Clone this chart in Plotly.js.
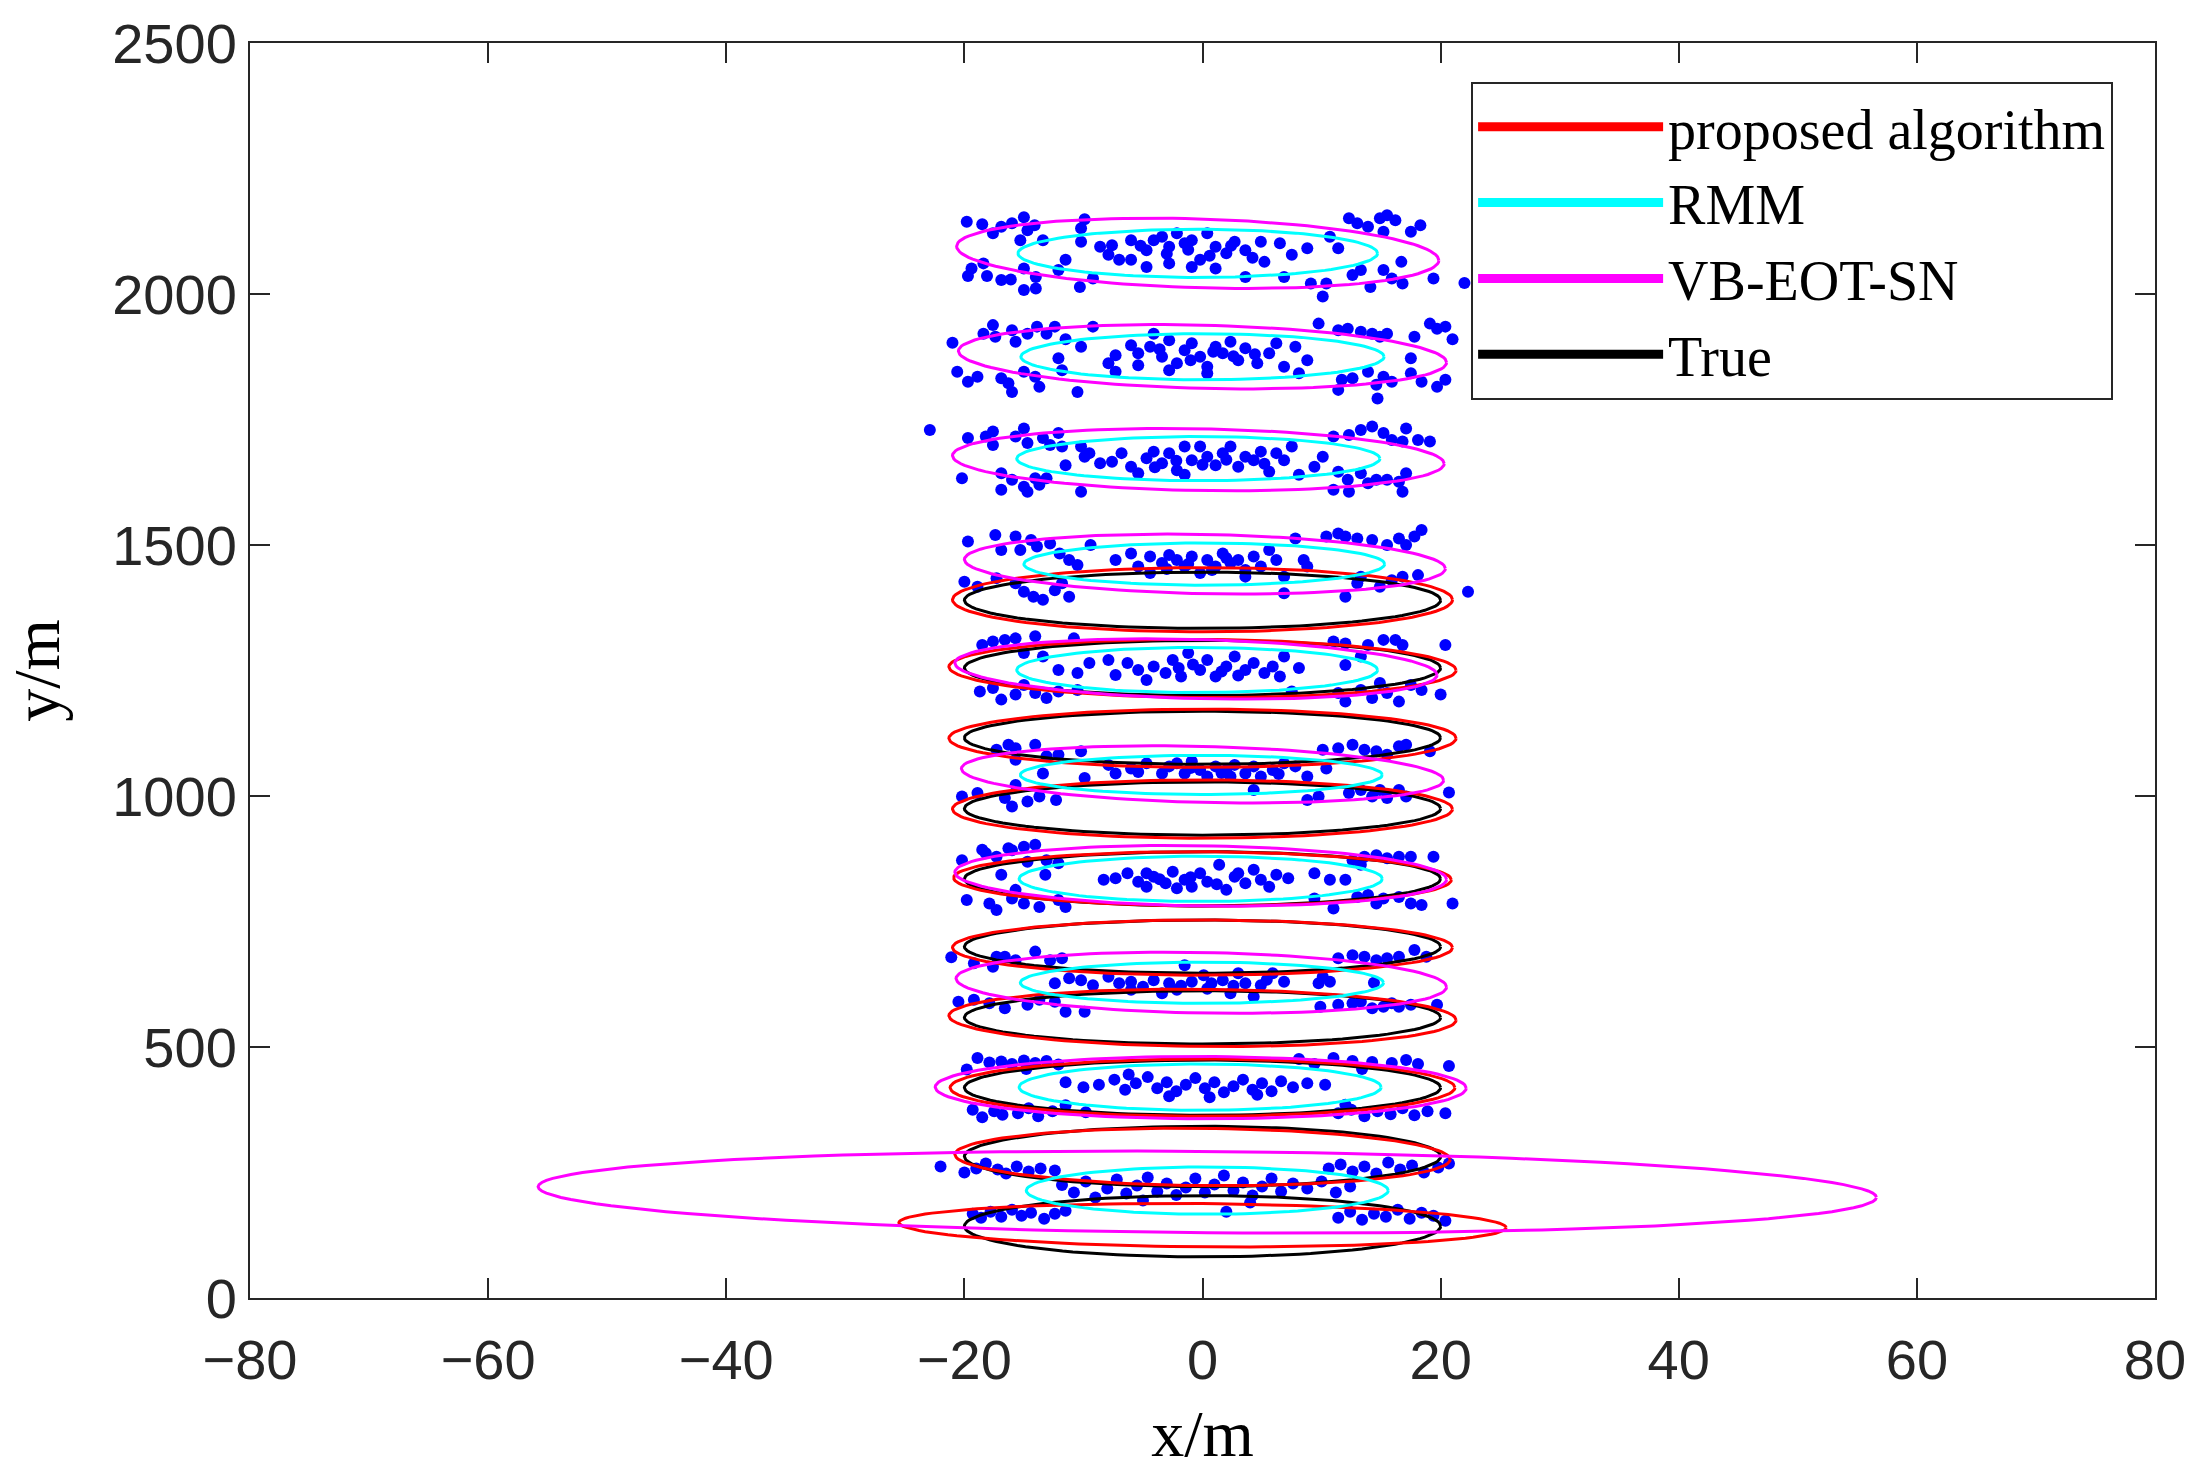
<!DOCTYPE html>
<html>
<head>
<meta charset="utf-8">
<script src="https://cdn.plot.ly/plotly-3.0.1.min.js"></script>
<style>
  html, body { margin: 0; padding: 0; background: #fff; }
</style>
</head>
<body>
<div id="chart" style="width:2202px;height:1470px;"></div>
<script>
// measurement points, one list per frame ([x, y] in metres)
const pointsFrame1 = [
  [-19.8,2144],[-18.5,2139],[-17.6,2121],[-16.9,2134],[-16.0,2141],[-15.0,2153],[-14.7,2127],[-14.1,2137],[-15.3,2107],[-13.4,2107],[-9.9,2149],[-10.2,2131],[-10.2,2104],
  [-19.4,2051],[-19.7,2036],[-18.4,2061],[-18.1,2036],[-16.9,2028],[-16.1,2029],[-15.0,2051],[-14.0,2034],[-15.0,2008],[-14.0,2011],[-12.1,2048],[-10.3,2014],[-9.2,2031],
  [-8.6,2094],[-7.6,2097],[-6.0,2107],[-7.9,2078],[-7.0,2068],[-6.0,2068],[-4.7,2087],[-4.1,2107],[-3.4,2114],[-2.8,2094],[-2.15,2121],[-1.5,2101],[-0.9,2107],[-0.2,2068],[0.4,2121],[1.1,2094],[2.0,2081],[2.7,2104],[3.6,2087],[4.9,2104],[-4.7,2054],[-2.8,2061],[-0.9,2054],[1.1,2051],[3.6,2034],[5.2,2064],[6.5,2101],[7.5,2078],[8.8,2091],[6.85,2034],[-11.5,2068],
  [-3.0,2080],[-1.2,2088],[0.6,2076],[2.4,2096],[-5.2,2096],[4.2,2072],
  [10.7,2114],[11.4,2091],[12.3,2151],[13.0,2141],[13.9,2134],[14.9,2151],[15.5,2157],[16.2,2147],[15.2,2124],[17.5,2124],[18.3,2137],
  [9.1,2021],[10.1,1995],[10.4,2021],[12.6,2038],[13.3,2048],[14.1,2014],[15.2,2048],[15.9,2031],[16.8,2021],[16.7,2064],[19.4,2031],[22.0,2022]
];
const pointsFrame2 = [
  [-21.0,1903],[-18.4,1921],[-17.6,1938],[-17.4,1915],[-16.0,1928],[-15.7,1905],[-14.7,1921],[-13.9,1935],[-13.1,1921],[-12.4,1935],[-11.5,1910],[-9.2,1935],[-10.2,1895],
  [-20.6,1845],[-19.7,1825],[-18.9,1835],[-16.9,1832],[-16.3,1822],[-16.0,1805],[-15.0,1845],[-14.05,1835],[-13.7,1815],[-12.1,1872],[-11.8,1848],[-10.5,1805],
  [-7.9,1862],[-7.3,1878],[-6.0,1898],[-5.4,1882],[-4.4,1895],[-4.1,1921],[-3.4,1875],[-2.8,1908],[-2.15,1862],[-1.5,1888],[-0.9,1902],[-0.2,1875],[0.4,1855],[1.1,1895],[1.7,1882],[2.35,1905],[3.0,1868],[3.6,1892],[4.6,1862],[5.6,1882],[6.2,1902],[6.85,1855],[7.8,1895],[8.8,1868],[8.1,1842],[-7.3,1845],[-2.8,1848],[0.4,1842],[-5.4,1858],
  [-1.0,1868],[0.9,1885],[2.6,1876],[-3.6,1890],[4.4,1880],
  [9.75,1941],[11.4,1928],[12.2,1931],[13.3,1925],[14.25,1921],[14.9,1915],[15.5,1921],[17.8,1915],[19.1,1941],[19.7,1931],[20.4,1935],[21.0,1910],
  [11.4,1809],[11.7,1829],[12.6,1832],[13.9,1845],[14.6,1819],[15.2,1835],[15.9,1825],[17.5,1872],[17.5,1842],[18.4,1825],[19.7,1815],[20.4,1829],[14.7,1792]
];
const pointsFrame3 = [
  [-22.9,1729],[-19.7,1713],[-18.2,1716],[-17.6,1726],[-17.6,1699],[-15.7,1716],[-15.0,1732],[-14.7,1703],[-13.4,1713],[-12.8,1699],[-12.1,1723],[-11.8,1696],[-10.2,1696],[-9.5,1683],
  [-20.2,1633],[-16.9,1643],[-16.9,1610],[-16.0,1630],[-15.0,1616],[-14.7,1606],[-14.05,1633],[-13.7,1620],[-13.1,1633],[-10.2,1606],
  [-11.5,1659],[-9.9,1676],[-8.6,1663],[-7.6,1666],[-6.8,1683],[-6.0,1656],[-5.4,1643],[-4.7,1673],[-4.1,1686],[-3.4,1663],[-2.8,1683],[-2.15,1649],[-1.5,1640],[-0.9,1669],[-0.2,1696],[0.4,1676],[1.1,1659],[1.7,1683],[2.35,1696],[3.0,1656],[3.6,1676],[4.3,1669],[4.9,1686],[5.6,1646],[6.2,1683],[6.85,1669],[7.5,1696],[8.1,1640],[9.4,1656],[10.1,1676],[-1.5,1696],
  [-2.2,1668],[0.0,1660],[2.0,1670],[-4.0,1655],[5.2,1662],
  [11.0,1716],[12.3,1719],[13.3,1729],[14.25,1736],[15.2,1723],[15.9,1709],[16.8,1706],[17.1,1732],[18.1,1709],[19.1,1706],
  [11.0,1610],[12.2,1630],[12.3,1606],[13.3,1643],[13.9,1623],[14.6,1630],[15.5,1630],[16.5,1626],[16.8,1606],[17.1,1643],[11.4,1646]
];
const pointsFrame4 = [
  [-19.7,1507],[-17.4,1520],[-16.9,1490],[-15.7,1517],[-15.3,1490],[-14.4,1510],[-13.9,1497],[-12.8,1503],[-12.0,1483],[-11.2,1470],[-10.5,1460],[-9.4,1500],
  [-20.0,1427],[-18.9,1417],[-17.3,1434],[-15.7,1424],[-15.0,1407],[-14.2,1397],[-13.4,1391],[-12.4,1410],[-11.2,1397],[-11.8,1424],
  [-7.3,1470],[-6.0,1483],[-5.4,1457],[-4.4,1477],[-3.4,1464],[-2.8,1480],[-2.15,1470],[-1.5,1457],[-0.9,1477],[-0.2,1444],[0.4,1470],[1.1,1457],[1.7,1483],[2.35,1464],[3.0,1470],[3.6,1450],[4.3,1477],[4.9,1457],[5.6,1490],[6.2,1470],[6.85,1437],[8.5,1470],[8.8,1457],[-4.4,1444],[3.6,1437],
  [-1.2,1462],[0.8,1450],[2.0,1474],[-3.0,1452],
  [7.8,1513],[10.4,1517],[11.4,1523],[12.0,1517],[13.0,1513],[14.25,1510],[15.5,1500],[16.5,1513],[17.1,1500],[17.8,1517],[18.4,1530],
  [12.0,1397],[13.0,1424],[13.3,1437],[14.9,1417],[15.9,1430],[16.8,1437],[18.1,1440],[22.3,1407],[6.85,1404]
];
const pointsFrame5 = [
  [-18.5,1301],[-17.6,1308],[-16.6,1311],[-15.7,1314],[-14.05,1318],[-15.0,1285],[-13.4,1278],[-10.8,1314],
  [-18.7,1208],[-17.6,1215],[-16.9,1192],[-15.7,1202],[-15.0,1221],[-14.05,1205],[-13.1,1195],[-12.1,1208],[-10.5,1211],
  [-12.1,1251],[-10.5,1245],[-9.5,1265],[-7.9,1271],[-7.3,1241],[-6.3,1265],[-5.4,1251],[-4.7,1231],[-4.1,1258],[-3.1,1245],[-2.5,1271],[-1.8,1238],[-1.2,1285],[-0.2,1251],[0.4,1271],[1.1,1238],[2.0,1258],[2.7,1278],[3.6,1251],[4.3,1265],[5.2,1245],[5.9,1258],[6.5,1238],[6.85,1278],[8.1,1255],[12.0,1261],[7.5,1208],
  [-0.8,1262],[1.6,1248],[-2.0,1255],[3.0,1240],
  [11.0,1308],[12.0,1304],[13.3,1278],[13.9,1301],[15.2,1311],[16.2,1311],[16.8,1301],[20.4,1301],
  [11.4,1205],[12.0,1188],[13.3,1211],[14.25,1195],[14.9,1225],[15.5,1205],[16.5,1188],[17.5,1221],[18.4,1211],[20.0,1202]
];
const pointsFrame6 = [
  [-17.3,1092],[-16.3,1102],[-15.7,1095],[-14.05,1102],[-13.1,1079],[-12.1,1082],[-15.7,1072],[-10.2,1089],
  [-20.2,999],[-18.9,1006],[-16.6,996],[-16.0,979],[-15.7,1022],[-14.7,989],[-13.7,999],[-13.4,1045],[-12.3,992],[-9.9,1036],
  [-7.9,1062],[-7.3,1045],[-6.0,1055],[-4.7,1065],[-3.4,1045],[-2.8,1059],[-2.15,1065],[-1.5,1045],[-0.9,1069],[-0.2,1052],[0.4,1039],[1.1,1059],[2.0,1052],[2.7,1062],[3.6,1045],[4.3,1059],[4.9,1039],[5.9,1052],[6.85,1065],[7.8,1059],[8.8,1039],[10.4,1055],[4.3,1012],[2.35,1039],
  [-5.4,1048],[-1.0,1056],[1.6,1046],[6.4,1044],
  [10.1,1092],[11.4,1095],[12.6,1102],[13.6,1092],[14.6,1089],[15.5,1082],[16.5,1099],[17.1,1102],[19.1,1089],
  [8.8,992],[9.75,999],[12.3,1006],[13.3,1012],[14.25,999],[15.5,996],[16.5,1012],[17.1,999],[20.7,1007],[14.9,1012]
];
const pointsFrame7 = [
  [-20.2,872],[-18.2,886],[-17.3,879],[-16.0,892],[-14.7,869],[-13.1,872],[-12.1,866],[-16.9,843],[-13.2,843],[-18.5,893],[-16.3,896],[-15.0,899],[-14.05,903],
  [-19.8,793],[-17.9,786],[-17.3,773],[-16.0,796],[-15.0,786],[-13.7,779],[-12.1,793],[-11.5,779],[-15.7,813],
  [-8.3,833],[-7.3,836],[-6.3,846],[-5.4,829],[-4.7,819],[-4.1,839],[-3.1,826],[-2.5,849],[-1.5,833],[-0.9,819],[-0.2,846],[0.4,829],[1.4,863],[2.0,813],[2.7,839],[3.6,826],[4.3,853],[4.9,833],[5.6,819],[6.2,843],[7.2,836],[9.4,846],[10.7,833],[12.0,833],[-4.7,846],[-2.15,816],
  [-1.0,838],[1.2,824],[3.0,846],[-3.6,834],
  [12.6,872],[13.6,879],[14.6,882],[15.5,876],[16.5,879],[17.5,879],[19.4,879],[13.3,863],
  [9.4,796],[11.0,776],[13.0,799],[13.9,803],[15.2,796],[16.5,799],[17.5,786],[18.4,783],[21.0,786],[14.6,786]
];
const pointsFrame8 = [
  [-21.1,679],[-19.2,667],[-17.6,660],[-16.6,680],[-15.7,673],[-14.05,690],[-12.8,673],[-11.8,677],[-17.3,680],
  [-20.5,590],[-19.2,594],[-17.9,587],[-16.6,577],[-14.7,584],[-13.7,594],[-12.4,590],[-11.5,570],[-9.9,570],[-12.4,627],
  [-11.2,637],[-10.2,633],[-9.2,623],[-7.9,640],[-7.0,627],[-6.0,630],[-5.0,620],[-4.1,633],[-3.4,607],[-2.8,627],[-2.15,614],[-1.5,663],[-0.9,630],[0.1,643],[0.75,627],[1.7,633],[2.35,607],[3.0,647],[3.6,627],[4.3,600],[4.9,623],[5.9,647],[6.85,630],[9.75,627],[10.7,630],[14.4,628],[-6.0,614],
  [-1.8,622],[0.4,616],[2.6,622],[5.4,634],
  [11.4,677],[12.6,683],[13.6,680],[14.6,673],[15.5,677],[16.5,680],[17.8,693],[18.8,680],[10.1,640],
  [9.9,580],[11.4,584],[12.6,587],[13.3,590],[14.25,577],[15.2,580],[15.9,587],[16.5,580],[17.5,584],[19.7,584]
];
const pointsFrame9 = [
  [-18.9,478],[-17.9,469],[-16.9,471],[-16.0,466],[-15.0,473],[-14.05,468],[-13.1,472],[-12.1,465],[-19.8,455],[-14.8,456],
  [-19.3,375],[-18.5,360],[-17.5,372],[-16.8,365],[-15.5,368],[-14.6,378],[-13.8,362],[-12.6,372],[-11.5,384],[-9.8,370],
  [-11.5,430],[-10.0,420],[-8.7,425],[-7.4,435],[-6.5,415],[-5.6,428],[-4.6,440],[-3.8,418],[-3.0,430],[-2.2,412],[-1.4,425],[-0.6,438],[0.2,418],[1.0,430],[1.8,410],[2.6,422],[3.4,435],[4.2,415],[5.0,428],[5.8,412],[6.6,432],[7.6,420],[8.8,428],[10.3,425],[-2.8,402],[0.6,400],[4.6,405],[-6.2,445],
  [11.4,368],[12.5,375],[13.6,362],[14.7,372],[15.8,366],[16.8,378],[17.8,364],[18.9,372],[20.4,368],[12.0,385],
  [8.1,476],[9.4,466],[11.0,478],[12.6,472],[14.25,470],[15.9,468],[17.1,474],[18.1,466],[20.7,462],[13.4,456]
];
const pointsFrame10 = [
  [-22.0,262],[-20.0,250],[-19.0,258],[-18.2,268],[-17.2,256],[-16.5,248],[-15.6,262],[-14.6,252],[-13.6,258],[-12.4,254],
  [-19.3,168],[-18.6,160],[-17.8,172],[-16.9,162],[-16.0,176],[-15.2,164],[-14.4,170],[-13.3,158],[-12.4,168],[-11.5,174],
  [-11.8,225],[-10.8,210],[-9.8,232],[-9.0,200],[-8.0,218],[-7.2,236],[-6.4,208],[-5.5,224],[-4.6,240],[-3.8,212],[-3.0,228],[-2.2,205],[-1.4,220],[-0.6,238],[0.2,210],[1.0,226],[1.8,244],[2.6,214],[3.4,230],[4.2,204],[5.0,222],[5.8,238],[6.6,212],[7.6,228],[8.8,218],[10.0,232],[11.2,210],[12.4,222],[2.0,172],[-5.0,194],[4.0,190],
  [10.6,258],[11.6,266],[12.6,252],[13.6,262],[14.6,248],[15.6,270],[16.6,256],[17.6,264],[18.6,250],[19.8,260],[20.7,268],
  [11.4,160],[12.4,172],[13.4,156],[14.4,168],[15.4,162],[16.4,176],[17.4,158],[18.4,170],[19.4,164],[20.4,154]
];

// extent estimates: centre, half-width (x), half-height (y), tilt (dy per dx)
const proposedCx = [0, 0, 0, 0, 0, 0, 0, 0, 0, 0];
const proposedCy = [1391, 1254, 1115, 974, 835, 698, 558, 419, 281, 145];
const proposedA = [21, 21.3, 21.3, 21, 20.9, 21, 21.3, 21.2, 20.8, 25.5];
const proposedB = [64, 58, 58, 58, 54, 55, 57, 57, 57, 43];
const proposedTilt = [0, -0.16, 0, 0, -0.1, 0, -0.2, 0, -0.24, -0.2];

const rmmCx = [-0.4, 0, -0.35, 0.15, -0.45, -0.1, -0.15, -0.05, -0.2, 0.4];
const rmmCy = [2081, 1875, 1672, 1462, 1251, 1042, 835, 628, 420, 214];
const rmmA = [15.1, 15.25, 15.25, 15.15, 15.15, 15.2, 15.25, 15.25, 15.2, 15.2];
const rmmB = [48, 46, 44, 42, 45, 39, 45, 41, 46, 47];
const rmmTilt = [0, 0, 0, 0, 0, 0, 0, 0, 0, 0];

const vbCx = [-0.4, 0, -0.35, 0.2, -0.55, 0, -0.15, -0.1, -0.15, 0.4];
const vbCy = [2081, 1875, 1670, 1462, 1253, 1043, 841, 628, 419, 211];
const vbA = [20.25, 20.5, 20.65, 20.2, 20.25, 20.25, 20.65, 20.6, 22.3, 56.2];
const vbB = [68.6, 63, 61.5, 59, 58.8, 55.8, 60, 60.4, 62, 81];
const vbTilt = [-0.69, -0.56, -0.39, -0.45, -0.59, -0.57, -0.35, -0.41, -0.05, -0.19];

const trueCx = [0, 0, 0, 0, 0, 0, 0, 0, 0, 0];
const trueCy = [1390, 1255, 1116, 975, 835, 700, 559, 419, 282, 143];
const trueA = [20, 20, 20, 20, 20, 20, 20, 20, 20, 20];
const trueB = [56, 55, 53, 53, 54, 53, 53, 55, 60, 61];
const trueTilt = [0, 0, 0, 0, 0, 0, 0, 0, 0, 0];

const legendNames = ['proposed algorithm', 'RMM', 'VB-EOT-SN', 'True'];
const legendColors = ['#ff0000', '#00ffff', '#ff00ff', '#000000'];

// outline of every ellipse of one method, separated by gaps
function ellipseOutlines(cx, cy, a, b, tilt) {
  let xs = [], ys = [];
  for (let i = 0; i < cy.length; i++) {
    for (let d = 0; d <= 360; d += 3) {
      let t = d * Math.PI / 180;
      let dx = a[i] * Math.cos(t);
      xs.push(cx[i] + dx);
      ys.push(cy[i] + b[i] * Math.sin(t) + tilt[i] * dx);
    }
    xs.push(null);
    ys.push(null);
  }
  return {x: xs, y: ys};
}

function outlineTrace(e, color) {
  return {
    x: e.x, y: e.y, type: 'scatter', mode: 'lines',
    line: {color: color, width: 3},
    showlegend: false, hoverinfo: 'skip'
  };
}

let allPoints = [].concat(pointsFrame1, pointsFrame2, pointsFrame3, pointsFrame4, pointsFrame5,
  pointsFrame6, pointsFrame7, pointsFrame8, pointsFrame9, pointsFrame10);

let traces = [];
traces.push({
  x: allPoints.map(p => p[0]),
  y: allPoints.map(p => p[1]),
  type: 'scatter', mode: 'markers',
  marker: {color: '#0000ff', size: 12},
  showlegend: false, hoverinfo: 'skip'
});
traces.push(outlineTrace(ellipseOutlines(trueCx, trueCy, trueA, trueB, trueTilt), '#000000'));
traces.push(outlineTrace(ellipseOutlines(proposedCx, proposedCy, proposedA, proposedB, proposedTilt), '#ff0000'));
traces.push(outlineTrace(ellipseOutlines(rmmCx, rmmCy, rmmA, rmmB, rmmTilt), '#00ffff'));
traces.push(outlineTrace(ellipseOutlines(vbCx, vbCy, vbA, vbB, vbTilt), '#ff00ff'));

// legend entries with thick sample lines
for (let i = 0; i < legendNames.length; i++) {
  traces.push({
    x: [null], y: [null], type: 'scatter', mode: 'lines',
    name: legendNames[i],
    line: {color: legendColors[i], width: 9}
  });
}

const axisColor = '#262626';
let layout = {
  width: 2202,
  height: 1470,
  margin: {l: 250, r: 47, t: 43, b: 172},
  paper_bgcolor: '#ffffff',
  plot_bgcolor: '#ffffff',
  xaxis: {
    range: [-80, 80],
    tick0: -80, dtick: 20,
    ticks: 'inside', ticklen: 20, tickwidth: 2, tickcolor: axisColor,
    showline: true, linecolor: axisColor, linewidth: 2, mirror: 'ticks',
    showgrid: false, zeroline: false,
    ticklabelstandoff: 12,
    tickfont: {family: 'Liberation Sans, Arial, sans-serif', size: 56, color: axisColor},
    title: {text: 'x/m', standoff: 38, font: {family: 'Liberation Serif, Times New Roman, serif', size: 66, color: '#000'}}
  },
  yaxis: {
    range: [0, 2500],
    tick0: 0, dtick: 500,
    ticks: 'inside', ticklen: 20, tickwidth: 2, tickcolor: axisColor,
    showline: true, linecolor: axisColor, linewidth: 2, mirror: 'ticks',
    showgrid: false, zeroline: false,
    ticklabelstandoff: 0,
    tickfont: {family: 'Liberation Sans, Arial, sans-serif', size: 56, color: axisColor},
    title: {text: 'y/m', standoff: 40, font: {family: 'Liberation Serif, Times New Roman, serif', size: 66, color: '#000'}}
  },
  showlegend: true,
  legend: {
    x: 0.641, y: 0.969, xanchor: 'left', yanchor: 'top',
    bgcolor: '#ffffff', bordercolor: axisColor, borderwidth: 2,
    itemwidth: 185,
    font: {family: 'Liberation Serif, Times New Roman, serif', size: 56, color: '#000'},
    tracegroupgap: 0
  }
};

Plotly.newPlot('chart', traces, layout, {displayModeBar: false, staticPlot: true});
</script>
</body>
</html>
